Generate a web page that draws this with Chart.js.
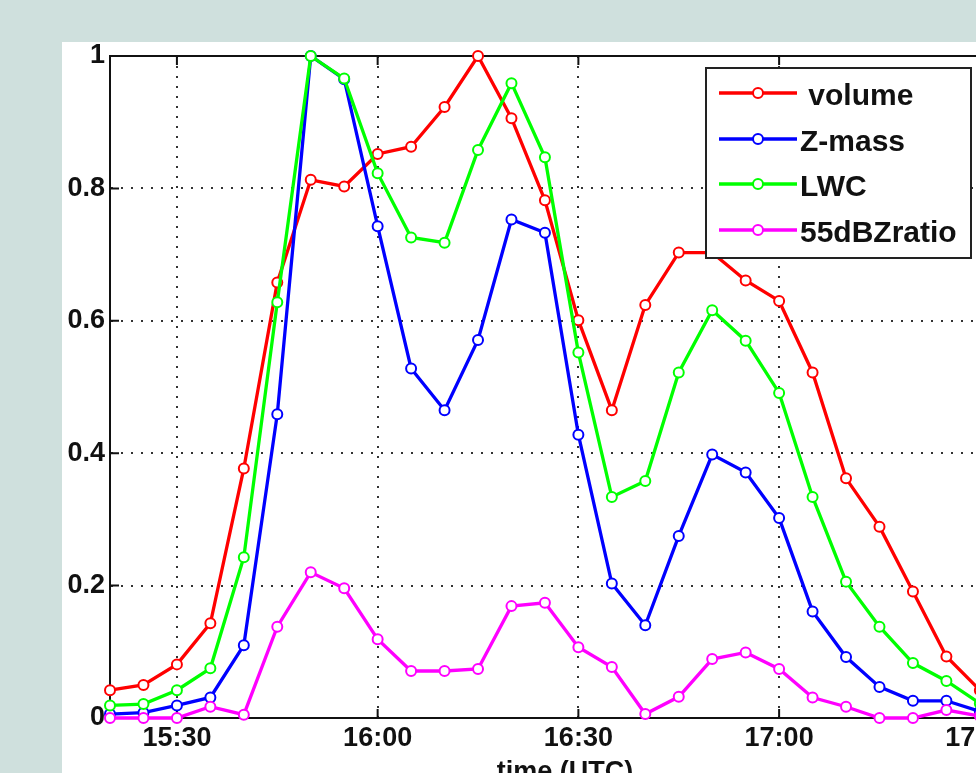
<!DOCTYPE html>
<html>
<head>
<meta charset="utf-8">
<script src="https://cdn.jsdelivr.net/npm/chart.js@4.4.1/dist/chart.umd.min.js"></script>
<style>
  html, body { margin: 0; padding: 0; overflow: hidden; width: 976px; height: 773px; background: #cfe0dd; }
  #panel { position: absolute; left: 62px; top: 42px; width: 1000px; height: 800px; background: #ffffff; }
  #wrap { position: absolute; left: 0; top: 0; width: 1030px; height: 800px; }
</style>
</head>
<body>
<div id="panel"></div>
<div id="wrap"><canvas id="c" width="1030" height="800"></canvas></div>
<script>
// Sample times (UTC), one every five minutes
const timeLabels = ['15:20','15:25','15:30','15:35','15:40','15:45','15:50','15:55','16:00',
  '16:05','16:10','16:15','16:20','16:25','16:30','16:35','16:40','16:45','16:50','16:55',
  '17:00','17:05','17:10','17:15','17:20','17:25','17:30'];

// Normalised series
const volume = [0.042,0.050,0.081,0.143,0.377,0.658,0.813,0.803,0.852,0.863,0.923,1.000,0.906,0.782,
  0.601,0.465,0.624,0.703,0.703,0.661,0.630,0.522,0.362,0.289,0.191,0.093,0.042];
const zMass = [0.006,0.008,0.019,0.031,0.110,0.459,1.000,0.965,0.743,0.528,0.465,0.571,0.753,0.733,
  0.428,0.203,0.140,0.275,0.398,0.371,0.302,0.161,0.092,0.047,0.026,0.026,0.010];
const lwc = [0.019,0.021,0.042,0.075,0.243,0.628,1.000,0.966,0.823,0.726,0.718,0.858,0.959,0.847,
  0.552,0.334,0.358,0.522,0.616,0.570,0.491,0.334,0.206,0.138,0.083,0.056,0.022];
const ratio55 = [0.000,0.000,0.000,0.017,0.005,0.138,0.220,0.196,0.119,0.071,0.071,0.074,0.169,0.174,
  0.107,0.077,0.006,0.032,0.089,0.099,0.074,0.031,0.017,0.000,0.000,0.012,0.003];

const seriesNames = [' volume', 'Z-mass', 'LWC', '55dBZratio'];
const seriesColors = ['#ff0000', '#0000ff', '#00ff00', '#ff00ff'];

// Axis ticks and limits
const xTickLabels = ['15:30', '16:00', '16:30', '17:00', '17:30'];
const yTickValues = [0, 0.2, 0.4, 0.6, 0.8, 1];
const xStart = '15:20';
const xEnd = '17:36';

function toMinutes(s) {
  const [h, m] = s.split(':').map(Number);
  return h * 60 + m;
}
function minutesToLabel(v) {
  const h = Math.floor(v / 60), m = Math.round(v - h * 60);
  return h + ':' + String(m).padStart(2, '0');
}

const xTickValues = xTickLabels.map(toMinutes);
const allSeries = [volume, zMass, lwc, ratio55];

const datasets = allSeries.map((vals, i) => ({
  label: seriesNames[i],
  data: vals.map((v, k) => ({ x: toMinutes(timeLabels[k]), y: v })),
  borderColor: seriesColors[i],
  backgroundColor: seriesColors[i],
  pointBorderColor: seriesColors[i],
  pointBackgroundColor: '#ffffff',
  borderWidth: 3.3,
  pointRadius: 5,
  pointBorderWidth: 2,
  pointStyle: 'circle',
  tension: 0,
  clip: false,
  order: allSeries.length - i
}));

const FONT = "'Liberation Sans', Arial, Helvetica, sans-serif";

// Solid top edge and inward tick marks of the axes box
const axesFrame = {
  id: 'axesFrame',
  beforeDatasetsDraw(chart) {
    const { ctx, chartArea: a, scales } = chart;
    ctx.save();
    ctx.strokeStyle = '#111';
    ctx.lineWidth = 2;
    ctx.beginPath();
    ctx.moveTo(a.left - 1, a.top);
    ctx.lineTo(a.right, a.top);
    ctx.moveTo(a.right, a.top);
    ctx.lineTo(a.right, a.bottom);
    const tl = 9;
    scales.x.ticks.forEach(t => {
      const px = scales.x.getPixelForValue(t.value);
      ctx.moveTo(px, a.bottom); ctx.lineTo(px, a.bottom - tl);
      ctx.moveTo(px, a.top); ctx.lineTo(px, a.top + tl);
    });
    scales.y.ticks.forEach(t => {
      const py = scales.y.getPixelForValue(t.value);
      ctx.moveTo(a.left, py); ctx.lineTo(a.left + tl, py);
      ctx.moveTo(a.right, py); ctx.lineTo(a.right - tl, py);
    });
    ctx.stroke();
    ctx.restore();
  }
};

// Boxed legend in the upper right of the axes
const boxLegend = {
  id: 'boxLegend',
  afterDatasetsDraw(chart) {
    const { ctx } = chart;
    const box = { x: 706, y: 68, w: 265, h: 190 };
    const rowY = [93, 139, 184, 230];
    ctx.save();
    ctx.fillStyle = '#ffffff';
    ctx.fillRect(box.x, box.y, box.w, box.h);
    ctx.strokeStyle = '#222';
    ctx.lineWidth = 2;
    ctx.strokeRect(box.x, box.y, box.w, box.h);
    chart.data.datasets.forEach((ds, i) => {
      const y = rowY[i];
      ctx.strokeStyle = ds.borderColor;
      ctx.lineWidth = 3.3;
      ctx.beginPath();
      ctx.moveTo(719, y); ctx.lineTo(797, y);
      ctx.stroke();
      ctx.beginPath();
      ctx.arc(758, y, 5, 0, Math.PI * 2);
      ctx.fillStyle = '#ffffff';
      ctx.fill();
      ctx.lineWidth = 2;
      ctx.stroke();
      ctx.fillStyle = '#111';
      ctx.font = 'bold 30px ' + FONT;
      ctx.textBaseline = 'alphabetic';
      ctx.textAlign = 'left';
      ctx.fillText(ds.label, 800, y + 12);
    });
    ctx.restore();
  }
};

new Chart(document.getElementById('c'), {
  type: 'line',
  data: { datasets },
  plugins: [axesFrame, boxLegend],
  options: {
    responsive: false,
    devicePixelRatio: 1,
    animation: false,
    layout: { padding: { left: 0, top: 56, right: 10, bottom: 0 } },
    plugins: { legend: { display: false }, tooltip: { enabled: false } },
    scales: {
      x: {
        type: 'linear',
        min: toMinutes(xStart),
        max: toMinutes(xEnd),
        afterBuildTicks: s => { s.ticks = xTickValues.map(v => ({ value: v })); },
        afterFit: s => { s.height = 82; },
        ticks: {
          callback: v => minutesToLabel(v),
          color: '#111',
          font: { family: FONT, size: 27, weight: 'bold' },
          padding: 4,
          maxRotation: 0,
          autoSkip: false
        },
        grid: { color: '#333', lineWidth: 2, drawTicks: false },
        border: { display: true, color: '#111', width: 2, dash: [2, 8] },
        title: {
          display: true,
          text: 'time (UTC)',
          color: '#111',
          font: { family: FONT, size: 27, weight: 'bold' },
          padding: { top: 0, bottom: 11 }
        }
      },
      y: {
        type: 'linear',
        min: 0,
        max: 1,
        afterBuildTicks: s => { s.ticks = yTickValues.map(v => ({ value: v })); },
        afterFit: s => { s.width = 110; },
        ticks: {
          callback: v => String(+v.toFixed(1)),
          color: '#111',
          font: { family: FONT, size: 27, weight: 'bold' },
          padding: 5
        },
        grid: { color: '#333', lineWidth: 2, drawTicks: false },
        border: { display: true, color: '#111', width: 2, dash: [2, 8] }
      }
    }
  }
});
</script>
</body>
</html>
